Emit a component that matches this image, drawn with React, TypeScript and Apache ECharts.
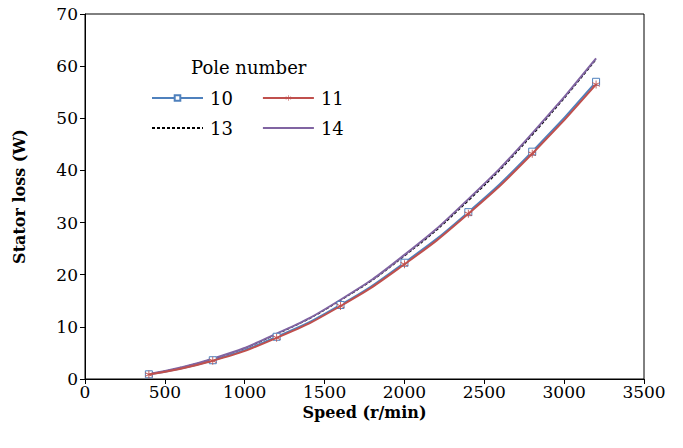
import React, { useEffect, useRef } from "react";
import * as echarts from "echarts";

const speeds = [400, 800, 1200, 1600, 2000, 2400, 2800, 3200];
const pole10 = [0.9, 3.6, 8.1, 14.2, 22.3, 32.0, 43.6, 57.0];
const pole11 = [0.88, 3.5, 7.9, 14.0, 22.0, 31.7, 43.2, 56.5];
const pole13 = [0.95, 3.85, 8.6, 15.1, 23.6, 34.2, 46.8, 61.3];
const pole14 = [0.97, 3.9, 8.7, 15.2, 23.8, 34.5, 47.1, 61.5];
const seriesNames = ["10", "11", "13", "14"];
const legendTitle = "Pole number";

const FONT = "DejaVu Serif";
const asterisk =
  "path://M4.5,0 L5.5,0 L5.5,4.1 L9.2,2.2 L9.7,3.1 L6,5 L9.7,6.9 L9.2,7.8 L5.5,5.9 L5.5,10 L4.5,10 L4.5,5.9 L0.8,7.8 L0.3,6.9 L4,5 L0.3,3.1 L0.8,2.2 L4.5,4.1 Z";

function pairs(vals: number[]) {
  return speeds.map((s, i) => [s, vals[i]]);
}

export default function App() {
  const ref = useRef<HTMLDivElement>(null);
  useEffect(() => {
    if (!ref.current) return;
    const chart = echarts.init(ref.current, null, { renderer: "svg" });
    const legendCommon = {
      orient: "horizontal" as const,
      itemWidth: 51,
      itemHeight: 7,
      itemGap: 29,
      textStyle: { fontFamily: FONT, fontSize: 18, color: "#000", padding: [0, 0, 0, 2] },
      padding: 0,
    };
    chart.setOption({
      animation: false,
      backgroundColor: "#fff",
      grid: {
        left: 85,
        right: 39,
        top: 14,
        bottom: 69,
        show: true,
        borderColor: "#000",
        borderWidth: 1,
      },
      graphic: [
        {
          type: "text",
          left: 191,
          top: 58,
          style: { text: legendTitle, fontFamily: FONT, fontSize: 18, fill: "#000" },
        },
      ],
      legend: [
        {
          ...legendCommon,
          data: [{ name: seriesNames[0] }, { name: seriesNames[1] }],
          left: 151,
          top: 89,
        },
        {
          ...legendCommon,
          data: [
            { name: seriesNames[2], itemStyle: { opacity: 0 } },
            { name: seriesNames[3], itemStyle: { opacity: 0 } },
          ],
          left: 151,
          top: 119,
        },
      ],
      xAxis: {
        type: "value",
        min: 0,
        max: 3500,
        interval: 500,
        name: "Speed (r/min)",
        nameLocation: "middle",
        nameGap: 22,
        nameTextStyle: { fontFamily: FONT, fontSize: 16, fontWeight: "bold", color: "#000" },
        axisLine: { show: true, lineStyle: { color: "#000", width: 1 } },
        axisTick: { show: true, length: 5, lineStyle: { color: "#000" } },
        axisLabel: {
          fontFamily: FONT,
          fontSize: 17,
          color: "#000",
          margin: 4,
          formatter: (v: number) => String(v),
        },
        splitLine: { show: false },
      },
      yAxis: {
        type: "value",
        min: 0,
        max: 70,
        interval: 10,
        name: "Stator loss (W)",
        nameLocation: "middle",
        nameGap: 58,
        nameTextStyle: { fontFamily: FONT, fontSize: 16, fontWeight: "bold", color: "#000" },
        axisLine: { show: true, lineStyle: { color: "#000", width: 1 } },
        axisTick: { show: true, length: 5, lineStyle: { color: "#000" } },
        axisLabel: { fontFamily: FONT, fontSize: 17, color: "#000", margin: 7 },
        splitLine: { show: false },
      },
      series: [
        {
          name: seriesNames[0],
          type: "line",
          smooth: true,
          data: pairs(pole10),
          symbol: "rect",
          symbolSize: 7,
          itemStyle: { color: "#fff", borderColor: "#4F81BD", borderWidth: 1 },
          lineStyle: { color: "#4F81BD", width: 2 },
          z: 3,
        },
        {
          name: seriesNames[1],
          type: "line",
          smooth: true,
          data: pairs(pole11),
          symbol: asterisk,
          symbolSize: 8,
          itemStyle: { color: "#C0504D" },
          lineStyle: { color: "#C0504D", width: 2 },
          z: 4,
        },
        {
          name: seriesNames[2],
          type: "line",
          smooth: true,
          data: pairs(pole13),
          symbol: "none",
          itemStyle: { color: "#000" },
          lineStyle: { color: "#000", width: 1.3, type: [3, 2] },
          z: 2,
        },
        {
          name: seriesNames[3],
          type: "line",
          smooth: true,
          data: pairs(pole14),
          symbol: "none",
          itemStyle: { color: "#8064A2" },
          lineStyle: { color: "#8064A2", width: 2 },
          z: 3,
        },
      ],
    });
    return () => chart.dispose();
  }, []);
  return <div ref={ref} style={{ width: 683, height: 448, position: "absolute", left: 0, top: 0 }} />;
}
